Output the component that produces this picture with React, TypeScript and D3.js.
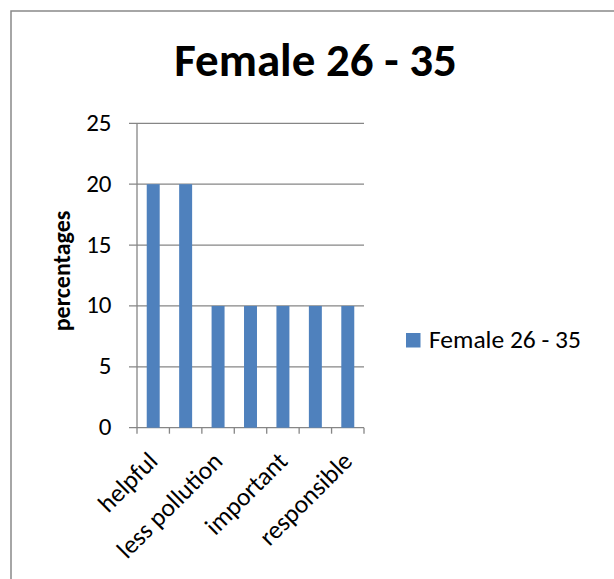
import React from "react";
import * as d3 from "d3";

const categories = ["helpful", "cheap", "less pollution", "healthy", "important", "convenient", "responsible"];
const values = [20, 20, 10, 10, 10, 10, 10];
const yTicks = [0, 5, 10, 15, 20, 25];
const seriesName = "Female 26 - 35";
const title = "Female 26 - 35";
const yTitle = "percentages";

export default function App() {
  const W = 614, H = 579;
  const left = 137, right = 364, top = 123.3, bottom = 427.7;
  const x = d3.scaleBand<string>().domain(categories).range([left, right]).paddingInner(0).paddingOuter(0);
  const y = d3.scaleLinear().domain([0, 25]).range([bottom, top]);
  const bw = x.bandwidth();
  const barW = bw / 2.5;
  const font = "Carlito, Calibri, 'Open Sans', 'Liberation Sans', sans-serif";
  const grid = "#868686";
  return (
    <svg width={W} height={H} style={{ position: "absolute", left: 0, top: 0 }} fontFamily={font}>
      <rect x={0} y={0} width={W} height={H} fill="#fff" />
      <rect x={11} y={11} width={W} height={H} fill="none" stroke="#898989" strokeWidth={1.5} />
      <text x={315.5} y={76} textAnchor="middle" fontWeight="bold" fontSize={47}>{title}</text>
      {yTicks.map((t) => (
        <g key={t}>
          <line x1={left - 8} x2={right} y1={y(t)} y2={y(t)} stroke={grid} strokeWidth={1.3} />
          <text x={111.5} y={y(t) + 7.5} textAnchor="end" fontSize={25}>{t}</text>
        </g>
      ))}
      {categories.map((c, i) => (
        <rect key={c} x={(x(c) as number) + (bw - barW) / 2} y={y(values[i])} width={barW} height={y(0) - y(values[i])} fill="#4F81BD" />
      ))}
      <line x1={left} x2={left} y1={top} y2={bottom} stroke={grid} strokeWidth={1.3} />
      {categories.map((c) => (
        <line key={"t" + c} x1={x(c) as number} x2={x(c) as number} y1={bottom} y2={bottom + 6} stroke={grid} strokeWidth={1.3} />
      ))}
      <line x1={right} x2={right} y1={bottom} y2={bottom + 6} stroke={grid} strokeWidth={1.3} />
      {categories.map((c, i) =>
        i % 2 === 0 ? (
          <text key={"l" + c} transform={`translate(${(x(c) as number) + bw / 2 + 6},${bottom + 35}) rotate(-45)`} textAnchor="end" fontSize={25.5}>
            {c}
          </text>
        ) : null
      )}
      <text transform={`translate(70,271) rotate(-90)`} textAnchor="middle" fontWeight="bold" fontSize={24}>{yTitle}</text>
      <rect x={406} y={333} width={14.5} height={14.5} fill="#4F81BD" />
      <text x={429} y={348} fontSize={25.5}>{seriesName}</text>
    </svg>
  );
}
